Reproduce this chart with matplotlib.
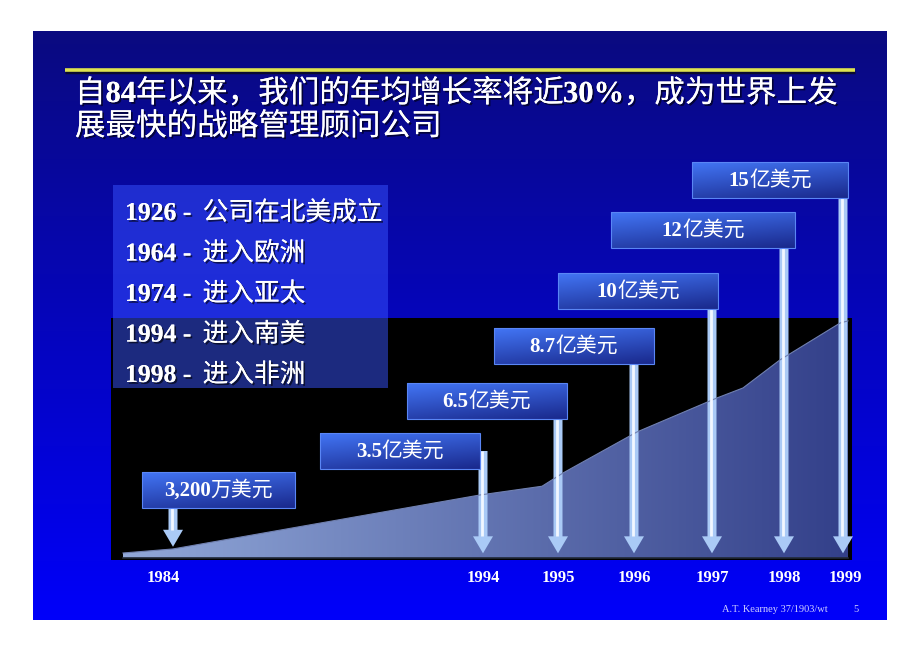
import numpy as np
import matplotlib
matplotlib.use('Agg')
import matplotlib.pyplot as plt
from matplotlib.patches import Rectangle, Polygon, FancyArrow
import matplotlib.patheffects as pe

# 数据
years = ['1984', '1994', '1995', '1996', '1997', '1998', '1999']
revenue_labels = ['3,200万美元', '3.5亿美元', '6.5亿美元', '8.7亿美元',
                  '10亿美元', '12亿美元', '15亿美元']
milestones = ['1926 - 公司在北美成立', '1964 - 进入欧洲', '1974 - 进入亚太',
              '1994 - 进入南美', '1998 - 进入非洲']
title_lines = ['自84年以来，我们的年均增长率将近30%，成为世界上发',
               '展最快的战略管理顾问公司']
footer = 'A.T. Kearney 37/1903/wt'
page_no = '5'

# 面积图轮廓 (x: 幻灯片像素, 高度: 亿美元)
area_x = [123, 173, 480, 542, 563, 637, 717, 743, 780, 840, 848]
area_top = [0.32, 0.58, 4.04, 4.6, 5.45, 8.08, 10.26, 10.9, 12.7, 15.06, 15.2]

# 版式
year_px = [173, 483, 558, 634, 712, 784, 843]
label_dx = [-10, 0, 0, 0, 0, 0, 2]
box_l = [142, 320, 407, 494, 558, 611, 692]
box_r = [295, 480, 567, 654, 718, 795, 848]
box_t = [472, 433, 383, 328, 273, 212, 162]
box_h = 36
PPU = 15.6     # 每亿美元像素
BASE = 558     # 基线像素


def to_val(py):
    return (BASE - py) / PPU


W, H = 920, 651
fig = plt.figure(figsize=(W / 100, H / 100), dpi=100, facecolor='white')
renderer = fig.canvas.get_renderer()

bg = fig.add_axes([0, 0, 1, 1], zorder=0)
bg.set_xlim(0, W)
bg.set_ylim(H, 0)
bg.axis('off')

ax = fig.add_axes([110 / W, (H - 560) / H, (853 - 110) / W, (560 - 318) / H], zorder=1)
ax.set_xlim(110, 853)
ax.set_ylim(to_val(560), to_val(318))
ax.axis('off')

top = fig.add_axes([0, 0, 1, 1], zorder=2)
top.set_xlim(0, W)
top.set_ylim(H, 0)
top.axis('off')
top.patch.set_alpha(0)


def put_mixed(a, x, y, s, size, ha='left', color='white', shadow=False):
    runs = []
    for ch in s:
        latin = ord(ch) < 128
        if runs and runs[-1][0] == latin:
            runs[-1][1] += ch
        else:
            runs.append([latin, ch])
    fx = None
    if shadow:
        fx = [pe.withSimplePatchShadow(offset=(1.3, -1.3), shadow_rgbFace='black', alpha=0.6),
              pe.Normal()]
    arts, widths = [], []
    for latin, part in runs:
        if latin:
            kw = dict(family='Liberation Serif', weight='bold')
        else:
            kw = dict(family='Noto Sans CJK SC')
        body = part.rstrip(' ')
        t = a.text(x, y, body, fontsize=size, color=color, va='baseline', ha='left',
                   path_effects=fx, **kw)
        w = t.get_window_extent(renderer).width
        w += (len(part) - len(body)) * size * 0.42 * 100 / 72
        arts.append(t)
        widths.append(w)
    start = x - sum(widths) / 2 if ha == 'center' else x
    for t, w in zip(arts, widths):
        t.set_x(start)
        start += w


# 背景渐变
grad = np.linspace(0, 1, 256)[:, None, None]
c_top = np.array([0.04, 0.04, 0.50])
c_bot = np.array([0.0, 0.0, 0.98])
bg.imshow(c_top + (c_bot - c_top) * grad, extent=(33, 887, 620, 31), aspect='auto',
          interpolation='bilinear')

# 黑色面板
bg.add_patch(Rectangle((111, 318), 741, 242, facecolor='black', edgecolor='none'))

# 左侧里程碑
bg.add_patch(Rectangle((113, 185), 275, 203, facecolor=(0.22, 0.33, 1.0), alpha=0.5,
                       edgecolor='none'))
for i, line in enumerate(milestones):
    put_mixed(bg, 125, 220 + i * 40.5, line, 18.5, shadow=True)

# 标题
bg.plot([65, 855], [72, 72], color='#0a0a30', lw=2.5, solid_capstyle='butt')
bg.plot([65, 855], [70, 70], color='#dfe34f', lw=2.6, solid_capstyle='butt')
put_mixed(bg, 75, 102, title_lines[0], 22, shadow=True)
put_mixed(bg, 75, 135, title_lines[1], 22, shadow=True)

# 页脚
bg.text(722, 612, footer, family='Liberation Serif', fontsize=7.5, color='#d0d0ff',
        va='baseline')
bg.text(853, 612, page_no, family='Liberation Serif', fontsize=7.5, color='#d0d0ff',
        va='baseline')

# 面积图
verts = [(area_x[0], 0)] + list(zip(area_x, area_top)) + [(area_x[-1], 0)]
poly = Polygon(verts, closed=True, facecolor='none', edgecolor='none')
ax.add_patch(poly)
hx = np.linspace(0, 1, 256)[None, :, None]
c_l = np.array([0.57, 0.66, 0.85])
c_r = np.array([0.20, 0.25, 0.54])
im = ax.imshow(c_l + (c_r - c_l) * hx, extent=(area_x[0], area_x[-1], 0, max(area_top)),
               aspect='auto', interpolation='bilinear')
im.set_clip_path(poly)
ax.plot(area_x, area_top, color='#7080b0', lw=0.8)
ax.plot([area_x[0], area_x[-1]], [0, 0], color='#202838', lw=1.2)
ax.set_xlim(110, 853)
ax.set_ylim(to_val(560), to_val(318))

# 箭头
head_len = 17 / PPU
for i, x in enumerate(year_px):
    y0 = to_val(box_t[i] + box_h / 2)
    tip = 0.72 if i == 0 else 0.3
    arr = FancyArrow(x, y0, 0, tip - y0, width=9, head_width=20, head_length=head_len,
                     length_includes_head=True, facecolor='#aacaf6', edgecolor='none')
    arr.set_clip_on(False)
    ax.add_patch(arr)
    ax.plot([x - 1.2, x - 1.2], [y0, tip + head_len], color='#f2f7ff', lw=2.0,
            solid_capstyle='butt', clip_on=False)
    ax.text(x + label_dx[i], to_val(582), years[i], family='Liberation Serif',
            weight='bold', fontsize=12, color='white', ha='center', va='baseline',
            clip_on=False)

# 数值标签框
gy = np.linspace(0, 1, 40)[:, None]
gx = np.linspace(0, 1, 120)[None, :]
tt = np.clip(0.7 * gy + 0.3 * gx, 0, 1)[..., None]
b0 = np.array([0.26, 0.46, 0.96])
b1 = np.array([0.10, 0.16, 0.55])
box_img = b0 + (b1 - b0) * tt
for i, lab in enumerate(revenue_labels):
    l, r, t = box_l[i], box_r[i], box_t[i]
    rect = Rectangle((l, t), r - l, box_h, facecolor='none', edgecolor='#5a86f5', lw=0.8)
    top.add_patch(rect)
    bim = top.imshow(box_img, extent=(l, r, t + box_h, t), aspect='auto',
                     interpolation='bilinear')
    bim.set_clip_path(rect)
    put_mixed(top, (l + r) / 2, t + box_h / 2 + 6, lab, 15, ha='center')
top.set_xlim(0, W)
top.set_ylim(H, 0)

fig.savefig('out.png', dpi=100, facecolor='white')
